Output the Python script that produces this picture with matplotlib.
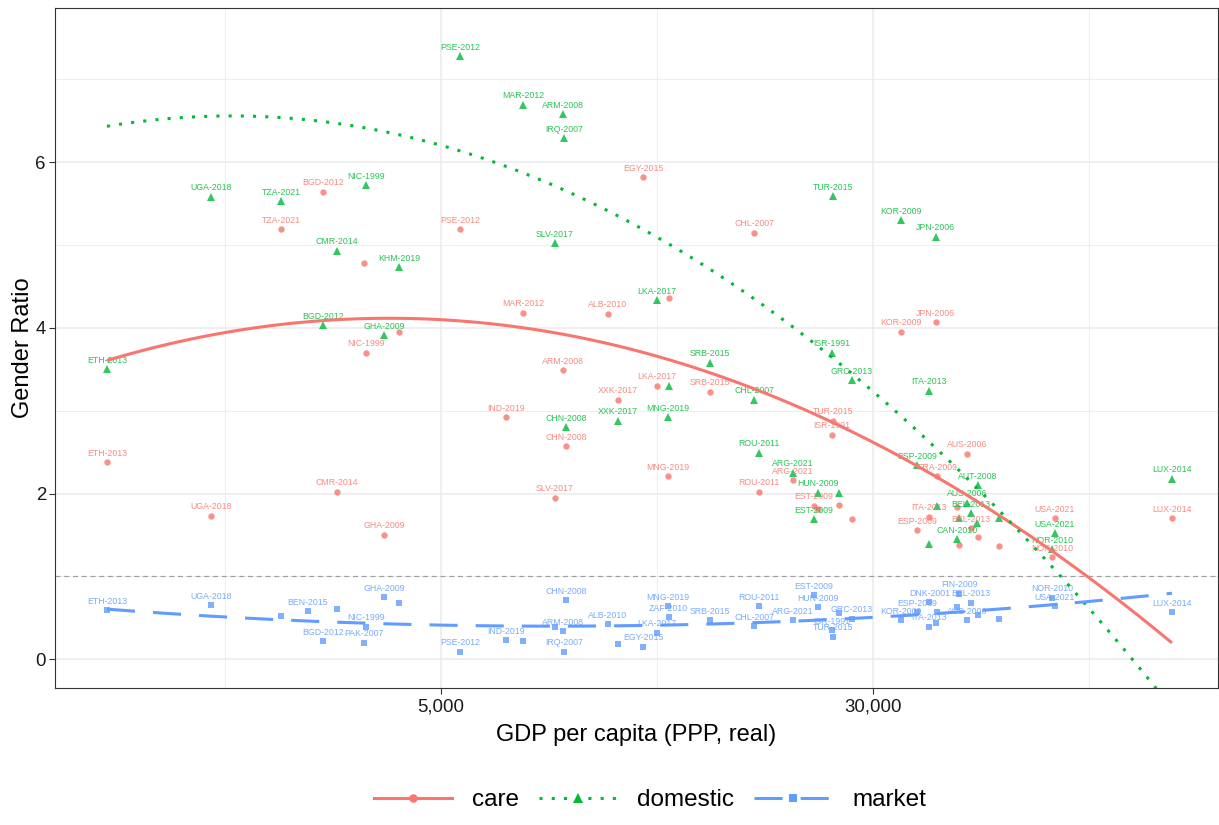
import numpy as np
import matplotlib
matplotlib.use("Agg")
import matplotlib.pyplot as plt
from matplotlib.lines import Line2D

plt.rcParams['font.family'] = ['Liberation Sans', 'DejaVu Sans']

# ---------------- data ----------------
countries = ["ETH-2013", "UGA-2018", "TZA-2021", "BEN-2015", "BGD-2012", "CMR-2014",
             "PAK-2007", "NIC-1999", "GHA-2009", "KHM-2019", "PSE-2012", "IND-2019",
             "MAR-2012", "SLV-2017", "ARM-2008", "IRQ-2007", "CHN-2008", "ALB-2010",
             "XXK-2017", "EGY-2015", "LKA-2017", "MNG-2019", "ZAF-2010", "SRB-2015",
             "CHL-2007", "ROU-2011", "ARG-2021", "EST-2009", "HUN-2009", "ISR-1991",
             "TUR-2015", "SVK-2010", "GRC-2013", "KOR-2009", "ESP-2009", "ITA-2013",
             "DNK-2001", "JPN-2006", "FRA-2009", "CAN-2010", "FIN-2009", "AUS-2006",
             "BEL-2013", "AUT-2008", "DEU-2012", "NLD-2011", "NOR-2010", "USA-2021",
             "LUX-2014"]
gdp = [1251, 1926, 2576, 2880, 3066, 3249,
       3634, 3664, 3948, 4202, 5410, 6549,
       7024, 8022, 8292, 8327, 8396, 9995,
       10420, 11557, 12246, 12820, 12850, 15256,
       18317, 18700, 21528, 23489, 23878, 25310,
       25400, 26055, 27500, 33700, 36000, 37840,
       37900, 38950, 39120, 42500, 42860, 44300,
       45050, 46380, 46200, 50580, 63030, 63810,
       103660]
nan = np.nan
care = [2.38, 1.73, 5.19, nan, 5.64, 2.02,
        4.78, 3.70, 1.50, 3.95, 5.19, 2.92,
        4.18, 1.95, 3.49, nan, 2.57, 4.17,
        3.13, 5.82, 3.30, 2.21, 4.36, 3.23,
        5.15, 2.02, 2.16, 1.85, 1.81, 2.71,
        2.88, 1.86, 1.69, 3.95, 1.56, 1.72,
        nan, 4.07, 2.21, 1.84, 1.38, 2.48,
        1.58, 1.47, nan, 1.37, 1.23, 1.70,
        1.70]
domestic = [3.50, 5.58, 5.53, nan, 4.03, 4.93,
            nan, 5.72, 3.91, 4.73, 7.28, nan,
            6.69, 5.02, 6.58, 6.29, 2.80, nan,
            2.88, nan, 4.33, 2.92, 3.30, 3.58,
            3.13, 2.49, 2.25, 1.69, 2.01, 3.70,
            5.59, 2.01, 3.37, 5.30, 2.34, 3.24,
            1.39, 5.10, 1.85, 1.45, 1.70, 1.89,
            1.76, 2.10, 1.64, 1.70, 1.33, 1.52,
            2.18]
market = [0.59, 0.65, 0.52, 0.58, 0.22, 0.61,
          0.20, 0.39, 0.75, 0.68, 0.09, 0.23,
          0.22, 0.39, 0.34, 0.09, 0.71, 0.42,
          0.18, 0.15, 0.32, 0.64, 0.51, 0.47,
          0.40, 0.64, 0.47, 0.77, 0.63, 0.35,
          0.27, 0.56, 0.49, 0.47, 0.57, 0.39,
          0.69, 0.44, 0.57, 0.63, 0.79, 0.47,
          0.68, 0.53, nan, 0.49, 0.74, 0.64,
          0.57]
# labels that are not drawn (overlapping) in each series
care_hidden = ["PAK-2007", "KHM-2019", "ZAF-2010", "HUN-2009", "SVK-2010", "GRC-2013",
               "CAN-2010", "FIN-2009", "AUT-2008", "NLD-2011"]
domestic_hidden = ["ZAF-2010", "SVK-2010", "DNK-2001", "FRA-2009", "FIN-2009",
                   "DEU-2012", "NLD-2011"]
market_hidden = ["TZA-2021", "CMR-2014", "KHM-2019", "MAR-2012", "SLV-2017", "XXK-2017",
                 "SVK-2010", "JPN-2006", "FRA-2009", "CAN-2010", "AUT-2008", "NLD-2011"]

# quadratic trend lines (in log GDP): values
care_trend_gdp = [1251, 2032, 5000, 12300, 25400, 50800, 72560, 103660]
care_trend_val = [3.61, 3.94, 4.09, 3.64, 2.88, 1.74, 0.99, 0.20]
domestic_trend_gdp = [1251, 3679, 5000, 7142, 13200, 21710, 30500, 43030, 51860, 63300, 77560]
domestic_trend_val = [6.43, 6.42, 6.18, 5.87, 4.97, 3.98, 3.20, 2.25, 1.73, 1.10, 0.44]
market_trend_gdp = [1251, 1958, 3028, 5147, 9240, 20070, 29380, 52960, 94200]
market_trend_val = [0.61, 0.52, 0.44, 0.41, 0.40, 0.45, 0.51, 0.62, 0.76]

series_names = ["care", "domestic", "market"]
series_colors = ["#F8766D", "#00BA38", "#619CFF"]
x_ticks = [5000, 30000]
x_ticklabels = ["5,000", "30,000"]
y_ticks = [0, 2, 4, 6]

W, H = 1219, 825
fig = plt.figure(figsize=(W / 100, H / 100), dpi=100)
ax = fig.add_axes([55 / W, 1 - 688 / H, (1218 - 55) / W, (688 - 8) / H])

ax.set_xscale('log')
lx5 = np.log10(5000)
px_per_dec = (873 - 441) / np.log10(6)
ax.set_xlim(10 ** (lx5 + (55 - 441) / px_per_dec), 10 ** (lx5 + (1218 - 441) / px_per_dec))
ax.set_ylim((659.2 - 688) / 82.85, (659.2 - 8) / 82.85)

# grid
grid_c = "#EBEBEB"
lmaj = np.log10(x_ticks)
step = lmaj[1] - lmaj[0]
minor_x = 10 ** np.array([lmaj[0] - step / 2, (lmaj[0] + lmaj[1]) / 2, lmaj[1] + step / 2])
for v in minor_x:
    ax.axvline(v, color=grid_c, lw=0.6, zorder=0)
for v in x_ticks:
    ax.axvline(v, color=grid_c, lw=1.1, zorder=0)
for v in [1, 3, 5, 7]:
    ax.axhline(v, color=grid_c, lw=0.6, zorder=0)
for v in y_ticks:
    ax.axhline(v, color=grid_c, lw=1.1, zorder=0)

ax.axhline(1, color="#A0A0A0", lw=0.9, linestyle=(0, (4, 3)), zorder=1)

gdp_a = np.array(gdp, dtype=float)
data = [np.array(care), np.array(domestic), np.array(market)]
trends = [(care_trend_gdp, care_trend_val), (domestic_trend_gdp, domestic_trend_val),
          (market_trend_gdp, market_trend_val)]
hidden = [care_hidden, domestic_hidden, market_hidden]
markers = ["o", "^", "s"]
msizes = [4.6, 5.4, 4.6]
lstyles = ["-", (0, (1, 3)), (0, (9.2, 5.9))]

for vals, col, mk, ms, ls, hid, tr in zip(data, series_colors, markers, msizes, lstyles,
                                          hidden, trends):
    ok = ~np.isnan(vals)
    ax.plot(gdp_a[ok], vals[ok], linestyle="none", marker=mk, ms=ms, color=col,
            alpha=0.8, markeredgewidth=0, zorder=2)
    for c, g, v in zip(countries, gdp_a, vals):
        if np.isnan(v) or c in hid:
            continue
        ax.annotate(c, (g, v), xytext=(0, 3.2), textcoords="offset points",
                    ha="center", va="bottom", fontsize=6.3, color=col, alpha=0.85,
                    zorder=2.5)
    # quadratic fit in log10(GDP) over the series' GDP range
    coef = np.polyfit(np.log10(tr[0]), tr[1], 2)
    lx = np.log10(gdp_a[ok])
    xs = np.linspace(lx.min(), lx.max(), 160)
    ax.plot(10 ** xs, np.polyval(coef, xs), color=col, lw=2.2, linestyle=ls, zorder=3,
            solid_capstyle="butt", dash_capstyle="butt")

ax.set_xticks(x_ticks)
ax.set_xticklabels(x_ticklabels)
ax.xaxis.set_minor_locator(matplotlib.ticker.NullLocator())
ax.set_yticks(y_ticks)
ax.tick_params(axis="both", which="major", labelsize=13.4, colors="#333333",
               labelcolor="#1a1a1a", length=4, width=0.8, direction="out")
ax.tick_params(axis="y", pad=2.5)
for s in ax.spines.values():
    s.set_color("#333333")
    s.set_linewidth(0.8)

ax.set_xlabel("GDP per capita (PPP, real)", fontsize=17, labelpad=6)
ax.set_ylabel("Gender Ratio", fontsize=17, labelpad=1)

handles = [Line2D([0], [0], color=c, lw=2.2, linestyle=ls, marker=mk, ms=ms + 1.5,
                  markeredgewidth=0)
           for c, ls, mk, ms in zip(series_colors, lstyles, markers, msizes)]
fig.legend(handles, series_names, loc="center", bbox_to_anchor=(650 / W, 1 - 800 / H),
           ncol=3, frameon=False, fontsize=17.5, handlelength=3.2, handletextpad=0.85,
           columnspacing=0.8)

fig.savefig("out.png", dpi=100)
